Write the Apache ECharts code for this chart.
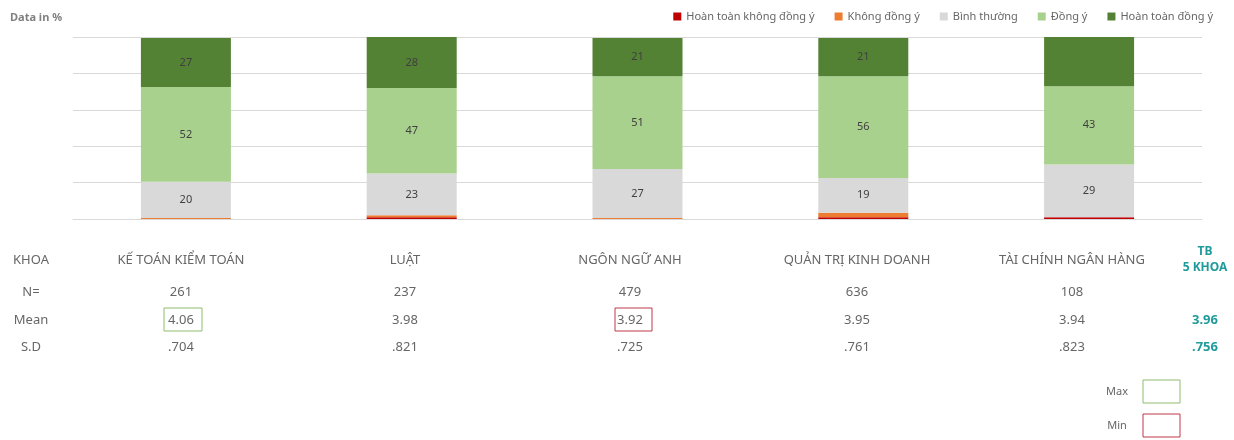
<!DOCTYPE html>
<html>
<head>
    <meta charset="utf-8">
    <title>echarts</title>
    <script src="https://cdn.jsdelivr.net/npm/echarts@6/dist/echarts.min.js"></script>
</head>
<body style="margin:0;background:#fff;">
    <div id="main" style="width:1234px;height:440px;"></div>
    <script type="text/javascript">
        // du lieu
        var khoa = ['KẾ TOÁN KIỂM TOÁN', 'LUẬT', 'NGÔN NGỮ ANH', 'QUẢN TRỊ KINH DOANH', 'TÀI CHÍNH NGÂN HÀNG'];
        var levels = ['Hoàn toàn không đồng ý', 'Không đồng ý', 'Bình thường', 'Đồng ý', 'Hoàn toàn đồng ý'];
        var htKhongDongY = [0, 1, 0, 1, 1];
        var khongDongY = [0.5, 1, 0.5, 2.5, 0];
        var binhThuong = [20, 23, 27, 19, 29];
        var dongY = [52, 47, 51, 56, 43];
        var htDongY = [27, 28, 21, 21, 27];
        var nValues = ['261', '237', '479', '636', '108'];
        var meanValues = ['4.06', '3.98', '3.92', '3.95', '3.94'];
        var sdValues = ['.704', '.821', '.725', '.761', '.823'];
        var tbMean = '3.96';
        var tbSd = '.756';
        var maxIdx = 0, minIdx = 2;
        var noLabel = [[4, 4]]; // [series, category] khong hien so

        var colors = ['#c00000', '#ed7d31', '#d9d9d9', '#a9d18e', '#548235'];
        var seriesData = [htKhongDongY, khongDongY, binhThuong, dongY, htDongY];
        var font = 'Noto Sans';
        var txt = '#666666';

        var myChart = echarts.init(document.getElementById('main'));

        var series = seriesData.map(function (arr, s) {
            return {
                name: levels[s],
                type: 'bar',
                stack: 'all',
                barWidth: 90,
                itemStyle: { color: colors[s] },
                label: {
                    show: true,
                    position: 'inside',
                    color: '#404040',
                    fontFamily: font,
                    fontSize: 11,
                    formatter: function (p) {
                        if (p.value < 10) return '';
                        for (var k = 0; k < noLabel.length; k++) {
                            if (noLabel[k][0] === s && noLabel[k][1] === p.dataIndex) return '';
                        }
                        return p.value;
                    }
                },
                data: arr
            };
        });

        // bang so lieu
        var colX = [181, 405, 630, 857, 1072];
        var rowY = { head: 260, n: 292, mean: 320, sd: 347 };
        var g = [];
        function t(x, y, text, opt) {
            opt = opt || {};
            g.push({
                type: 'text', x: x, y: y,
                style: {
                    text: text, fill: opt.color || txt, font: (opt.weight || 'normal') + ' ' + (opt.size || 13) + 'px "' + font + '"',
                    textAlign: 'center', textVerticalAlign: 'middle'
                }
            });
        }
        t(31, rowY.head, 'KHOA');
        t(31, rowY.n, 'N=');
        t(31, rowY.mean, 'Mean');
        t(31, rowY.sd, 'S.D');
        khoa.forEach(function (k, i) {
            t(colX[i], rowY.head, k);
            t(colX[i], rowY.n, nValues[i]);
            t(colX[i], rowY.mean, meanValues[i]);
            t(colX[i], rowY.sd, sdValues[i]);
        });
        t(1205, 252, 'TB', { color: '#1f9b9b', weight: 'bold', size: 12 });
        t(1205, 268, '5 KHOA', { color: '#1f9b9b', weight: 'bold', size: 12 });
        t(1205, rowY.mean, tbMean, { color: '#1f9b9b', weight: 'bold' });
        t(1205, rowY.sd, tbSd, { color: '#1f9b9b', weight: 'bold' });

        g.push({ type: 'rect', shape: { x: colX[maxIdx] - 17, y: 308, width: 38, height: 23 }, style: { fill: 'none', stroke: '#8fbc6f', lineWidth: 1 } });
        g.push({ type: 'rect', shape: { x: colX[minIdx] - 15, y: 308, width: 37, height: 23 }, style: { fill: 'none', stroke: '#c0394a', lineWidth: 1 } });
        t(1117, 392, 'Max', { size: 11 });
        t(1117, 426, 'Min', { size: 11 });
        g.push({ type: 'rect', shape: { x: 1143, y: 380, width: 37, height: 23 }, style: { fill: 'none', stroke: '#8fbc6f', lineWidth: 1 } });
        g.push({ type: 'rect', shape: { x: 1143, y: 414, width: 37, height: 23 }, style: { fill: 'none', stroke: '#c0394a', lineWidth: 1 } });
        g.push({ type: 'text', x: 10, y: 18, style: { text: 'Data in %', fill: '#808080', font: 'bold 11px "' + font + '"', textVerticalAlign: 'middle' } });

        var option = {
            backgroundColor: '#fff',
            animation: false,
            legend: {
                right: 16,
                top: 6,
                itemWidth: 8,
                itemHeight: 8,
                itemGap: 20,
                icon: 'rect',
                textStyle: { color: txt, fontFamily: font, fontSize: 11 },
                data: levels
            },
            grid: { left: 73, right: 32, top: 37, bottom: 221 },
            xAxis: {
                type: 'category',
                data: khoa,
                axisLine: { lineStyle: { color: '#d9d9d9' } },
                axisTick: { show: false },
                axisLabel: { show: false }
            },
            yAxis: {
                type: 'value',
                min: 0, max: 100, interval: 20,
                axisLabel: { show: false },
                splitLine: { lineStyle: { color: '#d9d9d9' } }
            },
            graphic: g,
            series: series
        };

        myChart.setOption(option);
    </script>
</body>
</html>
